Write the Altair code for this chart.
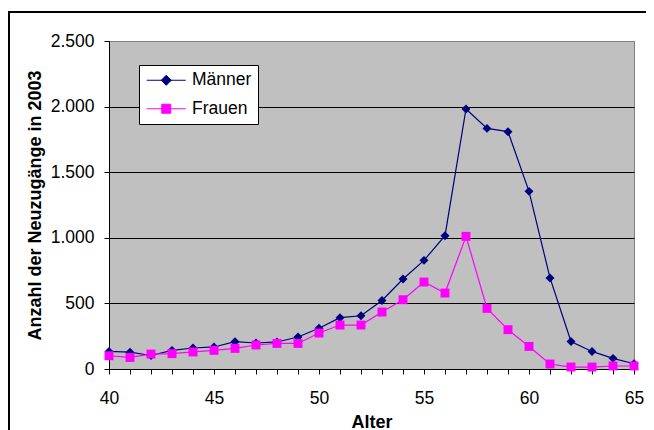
import altair as alt
import pandas as pd

ages = list(range(40, 66))
maenner = [134, 128, 103, 142, 160, 168, 208, 198, 206, 244, 310, 391, 406, 522,
           686, 828, 1016, 1982, 1834, 1809, 1354, 694, 210, 134, 81, 40]
frauen = [101, 88, 114, 117, 130, 142, 157, 183, 195, 195, 274, 335, 335, 434,
          528, 663, 579, 1011, 462, 300, 172, 38, 15, 15, 23, 23]
series = ["Männer", "Frauen"]
colors = ["#000080", "#FF00FF"]
y_ticks = [0, 500, 1000, 1500, 2000, 2500]

df = pd.DataFrame({
    "Alter": ages * 2,
    "Wert": maenner + frauen,
    "Serie": [series[0]] * len(ages) + [series[1]] * len(ages),
})

FONT = "Liberation Sans"
diamond_path = "M-1,0L4.2,0M1.6,-0.67L2.27,0L1.6,0.67L0.93,0Z"
square_path = "M-1,0L4.2,0M1.0,-0.6L2.2,-0.6L2.2,0.6L1.0,0.6Z"

x_axis = alt.Axis(
    title="Alter",
    values=ages,
    labelExpr="datum.value % 5 == 0 ? datum.label : ''",
    labelOverlap=False,
    labelFlush=False,
    grid=False,
    ticks=True,
    tickSize=5,
    tickColor="black",
    tickWidth=1,
    domainColor="black",
    labelFontSize=17.5,
    labelFont=FONT,
    labelColor="black",
    labelPadding=15,
    titleFont=FONT,
    titleFontSize=18,
    titleFontWeight="bold",
    titleColor="black",
    titlePadding=7,
)
y_axis = alt.Axis(
    title="Anzahl der Neuzugänge in 2003",
    values=y_ticks,
    labelExpr="replace(format(datum.value, ','), ',', '.')",
    labelOverlap=False,
    grid=True,
    gridColor={"condition": {"test": "datum.value >= 2500 || datum.value <= 0",
                             "value": "#808080"}, "value": "black"},
    gridWidth=1,
    gridOpacity=1,
    ticks=True,
    tickSize=5,
    tickColor="black",
    tickWidth=1,
    domainColor="black",
    labelFontSize=17.5,
    labelFont=FONT,
    labelColor="black",
    labelPadding=10,
    titleFont=FONT,
    titleFontSize=18,
    titleFontWeight="bold",
    titleColor="black",
    titlePadding=6,
)
x_scale = alt.Scale(domain=[40, 65], nice=False, zero=False)
y_scale = alt.Scale(domain=[0, 2500], nice=False)


def xe():
    return alt.X("Alter:Q", scale=x_scale, axis=x_axis)


def ye():
    return alt.Y("Wert:Q", scale=y_scale, axis=y_axis)


color_scale = alt.Scale(domain=series, range=colors)

legend = alt.Legend(
    title=None,
    orient="none",
    legendX=30,
    legendY=24,
    padding=6.5,
    fillColor="white",
    strokeColor="black",
    cornerRadius=0,
    symbolSize=225,
    symbolStrokeWidth=1,
    symbolOpacity=1,
    labelFont=FONT,
    labelFontSize=17.5,
    labelColor="black",
    labelOffset=29,
    rowPadding=9.5,
    labelLimit=200,
)

lines = alt.Chart(df).mark_line(strokeWidth=1.2).encode(
    x=xe(),
    y=ye(),
    color=alt.Color("Serie:N", scale=color_scale, legend=None),
)

points = alt.Chart(df).mark_point(filled=True, opacity=1, size=80).encode(
    x=xe(),
    y=ye(),
    color=alt.Color("Serie:N", scale=color_scale, legend=None),
    shape=alt.Shape("Serie:N", scale=alt.Scale(domain=series, range=["diamond", "square"]),
                    legend=None),
)

legend_layer = alt.Chart(df).transform_filter("false").mark_point(size=225, opacity=1).encode(
    x=xe(),
    y=ye(),
    fill=alt.Fill("Serie:N", scale=alt.Scale(domain=series, range=colors), legend=legend),
    stroke=alt.Stroke("Serie:N", scale=alt.Scale(domain=series, range=colors), legend=legend),
    shape=alt.Shape("Serie:N", scale=alt.Scale(domain=series, range=[diamond_path, square_path]),
                    legend=legend),
)

border = alt.Chart(df).mark_rect(fill=None, stroke="black", strokeWidth=1.5, clip=False).encode(
    x=alt.value(-100), x2=alt.value(700), y=alt.value(-29), y2=alt.value(600)
)

chart = alt.layer(border, lines, points, legend_layer).resolve_scale(
    shape="independent", fill="independent", stroke="independent"
).properties(
    width=525,
    height=328,
    autosize=alt.AutoSizeParams(type="none"),
    padding={"left": 101, "top": 33, "right": 12, "bottom": 61},
    background="white",
).configure_view(
    stroke="#808080",
    strokeWidth=1,
    fill="#C0C0C0",
)

chart.save("out.html", embed_options={"renderer": "svg", "actions": False})
